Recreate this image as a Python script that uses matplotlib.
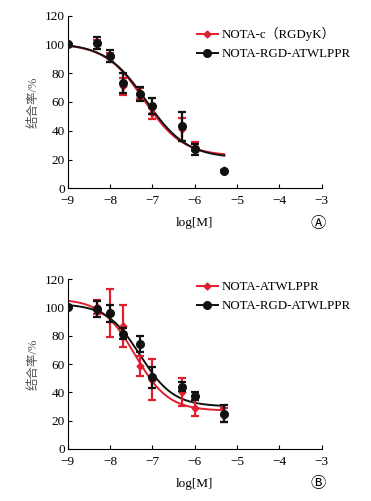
import matplotlib.pyplot as plt
import numpy as np

plt.rcParams['font.family'] = ['Liberation Serif', 'Noto Sans CJK SC', 'DejaVu Sans']

RED = '#e0202e'
BLACK = '#111111'

# log concentration (x) for both panels
log_m = [-9, -8.3, -8, -7.7, -7.3, -7, -6.3, -6, -5.3]

# panel A
a_red_y = [100, 100, 91, 71, 66, 52, 41, 29, 13]
a_red_err = [0, 3, 3, 6, 4, 4, 8, 3, 0]
a_blk_y = [100, 101, 92, 73, 65.5, 57, 43, 27, 12]
a_blk_err = [0, 4.5, 4, 7, 5, 5.5, 10, 4, 0]
# fitted curve params (top, bottom, logIC50, hill)
a_red_fit = (100.5, 22.5, -7.2, 0.95)
a_blk_fit = (101, 21, -7.15, 0.9)

# panel B
b_red_y = [100, 100, 96, 87, 58.5, 49, 40, 29, 24]
b_red_err = [0, 5, 17, 15, 7, 14.5, 10, 5.5, 5]
b_blk_y = [100, 99, 96, 81.5, 74, 50.5, 44, 37.5, 25]
b_blk_err = [0, 5.5, 6, 4, 5.5, 7.5, 3, 3, 6]
b_red_fit = (106, 27, -7.41, 1.1)
b_blk_fit = (102.5, 30, -7.29, 1.1)

xticks = [-9, -8, -7, -6, -5, -4, -3]
xticklabels = ['\u22129', '\u22128', '\u22127', '\u22126', '\u22125', '\u22124', '\u22123']
yticks = [0, 20, 40, 60, 80, 100, 120]


def logistic(x, fit):
    top, bottom, c, h = fit
    return bottom + (top - bottom) / (1 + 10 ** (h * (x - c)))


def panel(ax, red_label, red_y, red_err, red_fit, blk_y, blk_err, blk_fit, tag, leg_y):
    xs = np.linspace(-9, -5.3, 200)
    ax.plot(xs, logistic(xs, red_fit), color=RED, lw=1.4, zorder=2)
    ax.plot(xs, logistic(xs, blk_fit), color=BLACK, lw=1.4, zorder=3)
    ax.errorbar(log_m, red_y, yerr=red_err, fmt='D', ms=3.5, color=RED,
                ecolor=RED, elinewidth=1.6, capsize=3, capthick=1.6, zorder=4)
    ax.errorbar(log_m, blk_y, yerr=blk_err, fmt='o', ms=5.5, color=BLACK,
                ecolor=BLACK, elinewidth=1.6, capsize=3, capthick=1.6, zorder=5)
    # legend handles
    ax.plot([], [], color=RED, marker='D', ms=3.5, lw=1.4, label=red_label)
    ax.plot([], [], color=BLACK, marker='o', ms=5.5, lw=1.4, label='NOTA-RGD-ATWLPPR')
    ax.legend(loc='upper right', bbox_to_anchor=(1.16, leg_y), frameon=False,
              fontsize=9.3, handlelength=1.6, handletextpad=0.3, labelspacing=0.55)

    ax.set_xlim(-9, -3)
    ax.set_ylim(0, 120)
    ax.set_xticks(xticks)
    ax.set_xticklabels(xticklabels)
    ax.set_yticks(yticks)
    ax.tick_params(direction='in', length=3, labelsize=9.5)
    ax.tick_params(axis='x', pad=5)
    ax.tick_params(axis='y', pad=2)
    for s in ['top', 'right']:
        ax.spines[s].set_visible(False)
    ax.set_xlabel('log[M]', fontsize=9.5, labelpad=7)
    ax.set_ylabel('结合率/%', fontsize=9, color='#555555', labelpad=4)
    ax.text(0.985, -0.205, tag, transform=ax.transAxes, fontsize=11,
            ha='center', va='center')


fig = plt.figure(figsize=(3.71, 5.01), dpi=100)
ax1 = fig.add_axes([0.1825, 0.6242, 0.6846, 0.3445])
ax2 = fig.add_axes([0.1825, 0.1038, 0.6846, 0.3393])

panel(ax1, 'NOTA-c\uff08RGDyK\uff09', a_red_y, a_red_err, a_red_fit,
      a_blk_y, a_blk_err, a_blk_fit, '\u24b6', 1.0)
panel(ax2, 'NOTA-ATWLPPR', b_red_y, b_red_err, b_red_fit,
      b_blk_y, b_blk_err, b_blk_fit, '\u24b7', 1.055)

fig.savefig('out.png', dpi=100)
